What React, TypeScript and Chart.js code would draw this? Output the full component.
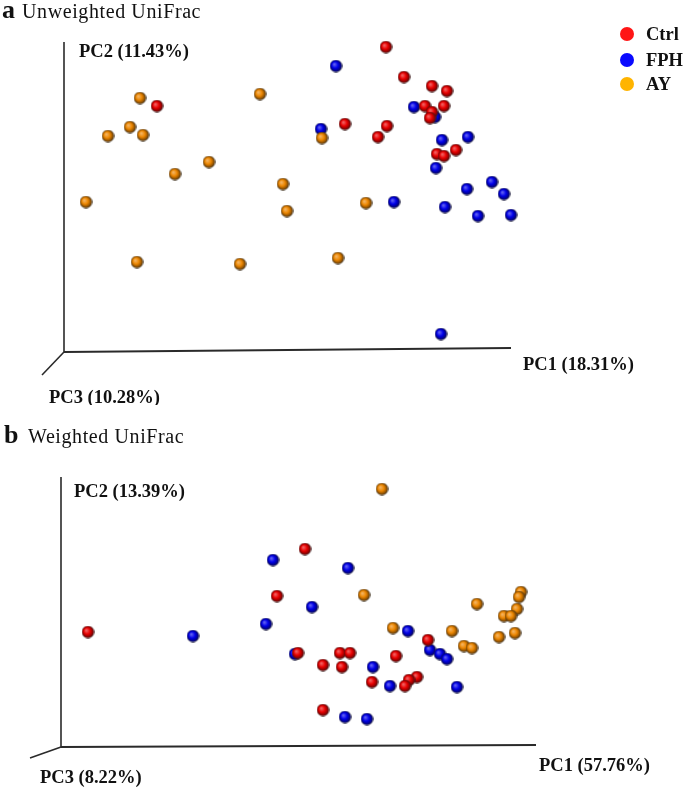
import React, { useEffect, useRef } from "react";
import { Chart, registerables } from "chart.js";

Chart.register(...registerables);

// ---------- data (projected PCoA positions, origin = axes corner) ----------
const groups = ["Ctrl", "FPH", "AY"];
const legendColors = ["#ff1616", "#0a0aff", "#ffb400"];
const sphereColors = ["#e80000", "#0000e8", "#ec8600"];

const unweightedCtrl: [number, number][] = [
  [93, 246], [322, 305], [340, 275], [368, 266], [383, 261], [361, 246], [380, 246],
  [368, 240], [366, 234], [281, 228], [323, 226], [314, 215], [392, 202], [373, 198], [380, 196],
];
const unweightedFPH: [number, number][] = [
  [272, 286], [257, 223], [350, 245], [371, 235], [378, 212], [404, 215], [372, 184],
  [428, 170], [403, 163], [440, 158], [330, 150], [381, 145], [414, 136], [447, 137], [377, 18],
];
const unweightedAY: [number, number][] = [
  [76, 254], [66, 225], [44, 216], [79, 217], [196, 258], [145, 190], [111, 178],
  [22, 150], [219, 168], [223, 141], [73, 90], [176, 88], [274, 94], [258, 214], [302, 149],
];

const weightedCtrl: [number, number][] = [
  [27, 115], [244, 198], [216, 151], [237, 94], [262, 82], [262, 37], [279, 94], [289, 94],
  [335, 91], [281, 80], [311, 65], [356, 70], [348, 67], [344, 61], [367, 107],
];
const weightedFPH: [number, number][] = [
  [132, 111], [212, 187], [251, 140], [205, 123], [234, 93], [287, 179], [347, 116], [369, 97],
  [379, 93], [386, 88], [396, 60], [312, 80], [329, 61], [284, 30], [306, 28],
];
const weightedAY: [number, number][] = [
  [321, 258], [303, 152], [332, 119], [416, 143], [460, 155], [458, 150], [456, 138],
  [443, 131], [450, 131], [391, 116], [438, 110], [454, 114], [403, 101], [411, 99],
];

const panelLetters = ["a", "b"];
const panelTitles = ["Unweighted UniFrac", "Weighted UniFrac"];
const pc1Labels = ["PC1 (18.31%)", "PC1 (57.76%)"];
const pc2Labels = ["PC2 (11.43%)", "PC2 (13.39%)"];
const pc3Labels = ["PC3 (10.28%)", "PC3 (8.22%)"];

// ---------- layout ----------
const W = 685;
const panels = [
  {
    top: 0, height: 405, originX: 64, originY: 352,
    series: [unweightedCtrl, unweightedFPH, unweightedAY],
    yAxisEnd: [0, 310], xAxisEnd: [447, 4], zAxisEnd: [-22, -23],
    pc2Pos: [15, 295], pc1Pos: [459, -18], pc3Pos: [-15, -51],
    titleBaseline: 18, letterX: 2, titleX: 22, legend: true,
  },
  {
    top: 405, height: 383, originX: 61, originY: 342,
    series: [weightedCtrl, weightedFPH, weightedAY],
    yAxisEnd: [0, 270], xAxisEnd: [475, 2], zAxisEnd: [-31, -11],
    pc2Pos: [13, 250], pc1Pos: [478, -24], pc3Pos: [-21, -36],
    titleBaseline: 38, letterX: 4, titleX: 28, legend: false,
  },
];

const SERIF = '"Liberation Serif", "Times New Roman", serif';

function mix(hex: string, target: number, t: number) {
  const n = parseInt(hex.slice(1), 16);
  const r = (n >> 16) & 255, g = (n >> 8) & 255, b = n & 255;
  const f = (v: number) => Math.round(v + (target - v) * t);
  return `rgb(${f(r)},${f(g)},${f(b)})`;
}

function makeSphere(color: string, size = 13) {
  const c = document.createElement("canvas");
  c.width = size;
  c.height = size;
  const g = c.getContext("2d")!;
  const r = size / 2;
  const grad = g.createRadialGradient(r - 1.8, r - 1.8, 0.4, r, r, r);
  grad.addColorStop(0, mix(color, 255, 0.4));
  grad.addColorStop(0.45, color);
  grad.addColorStop(0.78, mix(color, 0, 0.4));
  grad.addColorStop(1, "rgba(35,35,35,0.95)");
  g.fillStyle = grad;
  g.beginPath();
  g.arc(r, r, r - 0.3, 0, Math.PI * 2);
  g.fill();
  return c;
}

function Panel({ idx }: { idx: number }) {
  const ref = useRef<HTMLCanvasElement | null>(null);
  const p = panels[idx];

  useEffect(() => {
    if (!ref.current) return;
    const spheres = sphereColors.map((c) => makeSphere(c));
    const drawOrder = [0, 2, 1];

    const decor = {
      id: "decor" + idx,
      beforeDatasetsDraw(chart: any) {
        const ctx = chart.ctx;
        const sx = chart.scales.x, sy = chart.scales.y;
        const px = (v: number) => sx.getPixelForValue(v);
        const py = (v: number) => sy.getPixelForValue(v);
        ctx.save();
        ctx.strokeStyle = "#2a2a2a";
        ctx.lineCap = "butt";
        ctx.lineWidth = 1.6;
        ctx.beginPath();
        ctx.moveTo(px(0), py(0));
        ctx.lineTo(px(p.yAxisEnd[0]), py(p.yAxisEnd[1]));
        ctx.stroke();
        ctx.lineWidth = 2;
        ctx.beginPath();
        ctx.moveTo(px(0), py(0));
        ctx.lineTo(px(p.xAxisEnd[0]), py(p.xAxisEnd[1]));
        ctx.stroke();
        ctx.lineWidth = 1.6;
        ctx.beginPath();
        ctx.moveTo(px(0), py(0));
        ctx.lineTo(px(p.zAxisEnd[0]), py(p.zAxisEnd[1]));
        ctx.stroke();
        ctx.restore();
      },
      afterDraw(chart: any) {
        const ctx = chart.ctx;
        const sx = chart.scales.x, sy = chart.scales.y;
        const px = (v: number) => sx.getPixelForValue(v);
        const py = (v: number) => sy.getPixelForValue(v);
        ctx.save();
        ctx.fillStyle = "#111";
        ctx.textBaseline = "alphabetic";
        ctx.textAlign = "left";
        // title
        ctx.font = `bold 26px ${SERIF}`;
        ctx.fillText(panelLetters[idx], p.letterX, p.titleBaseline);
        ctx.font = `20px ${SERIF}`;
        (ctx as any).letterSpacing = "0.6px";
        ctx.fillText(panelTitles[idx], p.titleX, p.titleBaseline);
        (ctx as any).letterSpacing = "0px";
        // axis labels
        ctx.font = `bold 18.5px ${SERIF}`;
        ctx.fillText(pc2Labels[idx], px(p.pc2Pos[0]), py(p.pc2Pos[1]));
        ctx.fillText(pc1Labels[idx], px(p.pc1Pos[0]), py(p.pc1Pos[1]));
        ctx.fillText(pc3Labels[idx], px(p.pc3Pos[0]), py(p.pc3Pos[1]));
        // legend
        if (p.legend) {
          const ys = [34, 60, 84];
          groups.forEach((g, i) => {
            ctx.fillStyle = legendColors[i];
            ctx.beginPath();
            ctx.arc(627, ys[i], 7, 0, Math.PI * 2);
            ctx.fill();
            ctx.fillStyle = "#111";
            ctx.font = `bold 18.5px ${SERIF}`;
            ctx.fillText(g, 646, ys[i] + 6);
          });
        }
        ctx.restore();
      },
    };

    const chart = new Chart(ref.current, {
      type: "scatter",
      data: {
        datasets: drawOrder.map((gi, k) => ({
          label: groups[gi],
          data: p.series[gi].map(([x, y]) => ({ x, y })),
          pointStyle: spheres[gi] as any,
          pointRadius: 6.5,
          pointHoverRadius: 6.5,
          backgroundColor: sphereColors[gi],
          borderColor: sphereColors[gi],
          clip: false as any,
          order: k,
        })),
      },
      options: {
        animation: false,
        responsive: false,
        devicePixelRatio: 1,
        events: [],
        layout: { padding: 0, autoPadding: false } as any,
        plugins: { legend: { display: false }, tooltip: { enabled: false } },
        scales: {
          x: { type: "linear", display: false, min: -p.originX, max: W - p.originX },
          y: { type: "linear", display: false, min: p.originY - p.height, max: p.originY },
        },
      },
      plugins: [decor as any],
    });
    return () => chart.destroy();
  }, [idx]);

  return (
    <canvas
      ref={ref}
      width={W}
      height={p.height}
      style={{ position: "absolute", left: 0, top: p.top, width: W, height: p.height, display: "block" }}
    />
  );
}

export default function App() {
  return (
    <div style={{ position: "absolute", left: 0, top: 0, width: W, height: 788, background: "#fff", overflow: "hidden" }}>
      <Panel idx={0} />
      <Panel idx={1} />
    </div>
  );
}
